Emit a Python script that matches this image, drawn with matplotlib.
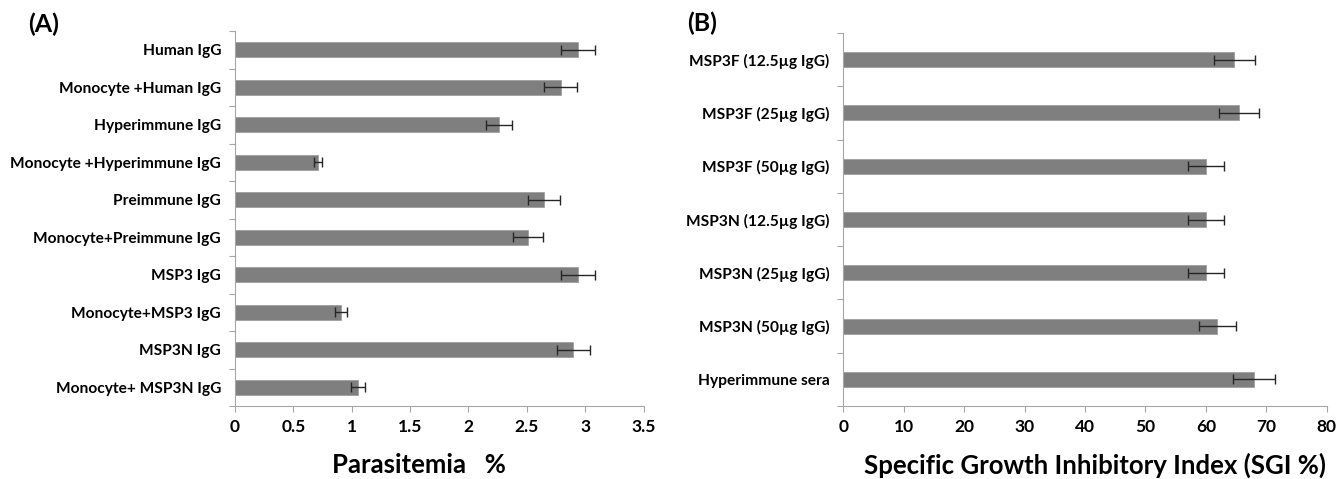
import matplotlib
matplotlib.use("Agg")
import matplotlib.pyplot as plt
import numpy as np

plt.rcParams['font.family'] = ['Lato', 'DejaVu Sans']

cats_a = ["Human IgG", "Monocyte +Human IgG", "Hyperimmune IgG", "Monocyte +Hyperimmune IgG",
          "Preimmune IgG", "Monocyte+Preimmune IgG", "MSP3 IgG", "Monocyte+MSP3 IgG",
          "MSP3N IgG", "Monocyte+ MSP3N IgG"]
vals_a = [2.94, 2.79, 2.26, 0.71, 2.65, 2.51, 2.94, 0.91, 2.90, 1.05]
errs_a = [0.145, 0.14, 0.11, 0.035, 0.138, 0.13, 0.145, 0.05, 0.143, 0.06]
ticks_a = [0, 0.5, 1, 1.5, 2, 2.5, 3, 3.5]
ticklabels_a = ["0", "0.5", "1", "1.5", "2", "2.5", "3", "3.5"]

cats_b = ["MSP3F (12.5µg IgG)", "MSP3F (25µg IgG)", "MSP3F (50µg IgG)", "MSP3N (12.5µg IgG)",
          "MSP3N (25µg IgG)", "MSP3N (50µg IgG)", "Hyperimmune sera"]
vals_b = [64.7, 65.5, 60.0, 60.0, 60.0, 61.9, 68.0]
errs_b = [3.4, 3.3, 3.0, 3.0, 3.0, 3.1, 3.45]
ticks_b = [0, 10, 20, 30, 40, 50, 60, 70, 80]

fig = plt.figure(figsize=(13.38, 4.79), dpi=100)

axA = fig.add_axes([235/1338, 1-406/479, (643.5-235)/1338, (406-31)/479])
axB = fig.add_axes([843.3/1338, 1-406/479, (1326.7-843.3)/1338, (406-33)/479])

bar_color = '#7f7f7f'
axis_color = '#a6a6a6'

def style(ax, cats, vals, errs, xmax, ticks, ticklabels, height):
    n = len(cats)
    y = np.arange(n)[::-1]
    ax.barh(y, vals, height=height, color=bar_color, edgecolor='#a0a0a0', linewidth=0.6,
            xerr=errs, error_kw=dict(ecolor='#262626', elinewidth=1.0, capsize=3.5, capthick=1.0))
    ax.set_xlim(0, xmax)
    ax.set_ylim(-0.5, n - 0.5)
    ax.set_xticks(ticks)
    ax.set_xticklabels(ticklabels, fontsize=12.5, fontweight='bold')
    ax.set_yticks(y)
    ax.set_yticklabels(cats, fontsize=11.2, fontweight='bold')
    ax.tick_params(axis='y', length=0, pad=10)
    ax.set_yticks(np.arange(n + 1) - 0.5, minor=True)
    ax.tick_params(axis='y', which='minor', length=4, color=axis_color, width=0.8)
    ax.tick_params(axis='x', length=4, color=axis_color, width=0.8, pad=5)
    for s in ['top', 'right']:
        ax.spines[s].set_visible(False)
    for s in ['left', 'bottom']:
        ax.spines[s].set_color(axis_color)
        ax.spines[s].set_linewidth(0.8)

style(axA, cats_a, vals_a, errs_a, 3.5, ticks_a, ticklabels_a, 0.4)
style(axB, cats_b, vals_b, errs_b, 80, ticks_b, [str(t) for t in ticks_b], 0.28)

fig.text(332/1338, 1-465/479, "Parasitemia   %", fontsize=18.5, fontweight='bold', ha='left', va='center')
fig.text(1095/1338, 1-465/479, "Specific Growth Inhibitory Index (SGI %)", fontsize=18.5, fontweight='bold',
         ha='center', va='center')
fig.text(44/1338, 1-24/479, "(A)", fontsize=18, fontweight='bold', ha='center', va='center')
fig.text(702/1338, 1-23/479, "(B)", fontsize=18, fontweight='bold', ha='center', va='center')

fig.savefig("out.png", dpi=100)
